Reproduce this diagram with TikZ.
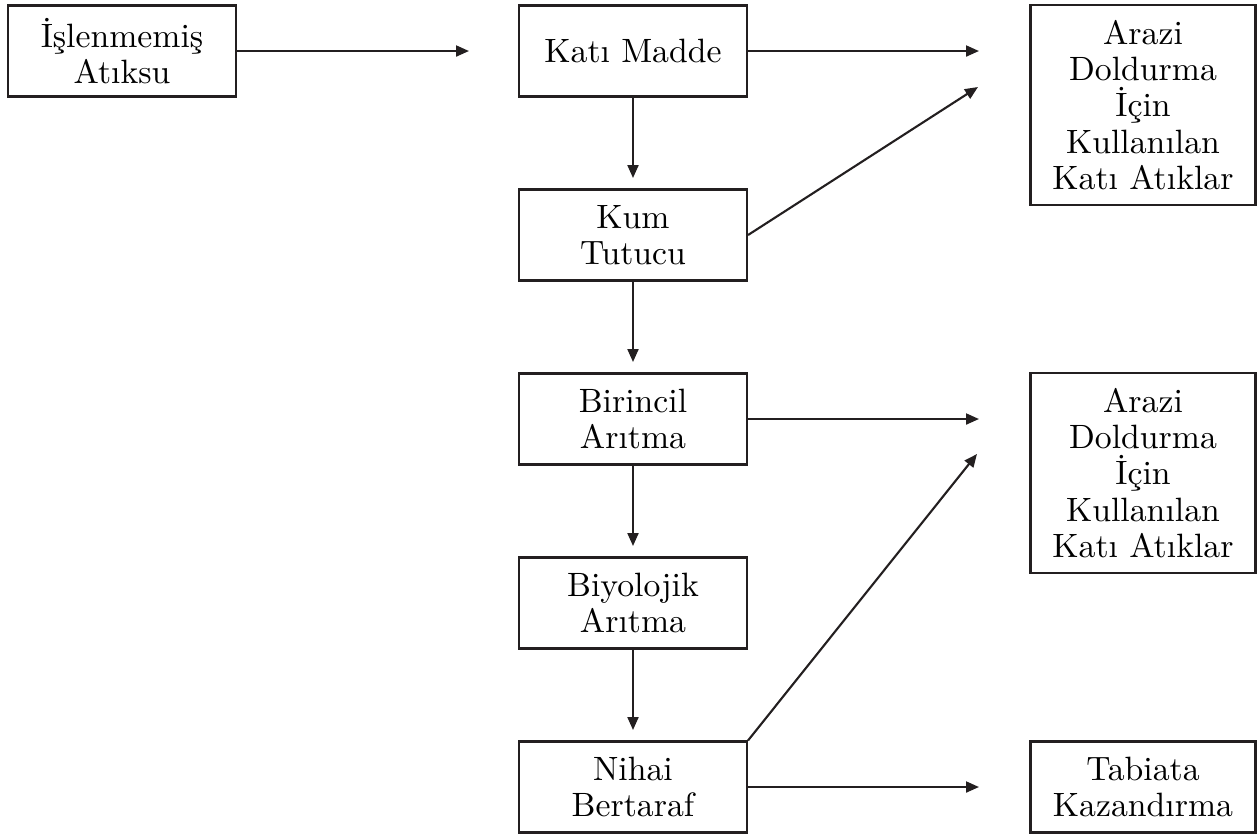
\documentclass[tikz,border=0pt]{standalone}
\usepackage{fontspec}
\usetikzlibrary{arrows.meta}
\definecolor{ink}{HTML}{231F20}
\tikzset{
  kutu/.style={draw=ink, line width=0.6pt, align=center, inner sep=0pt,
    minimum width=2.28cm, minimum height=0.91cm,
    font=\fontsize{9.6}{10.3}\selectfont},
  ok/.style={draw=ink, line width=0.6pt, -{Triangle[length=0.13cm,width=0.11cm]}}
}
\begin{document}
\begin{tikzpicture}[x=0.1mm, y=-0.1mm]
            \useasboundingbox (0,0) rectangle (1259,835);
            % kutular
            \node[kutu] (atiksu) at (122,51) {İşlenmemiş\\Atıksu};
            \node[kutu] (madde) at (633,51) {Katı Madde};
            \node[kutu] (kum) at (633,235) {Kum\\Tutucu};
            \node[kutu] (birincil) at (633,419) {Birincil\\Arıtma};
            \node[kutu] (biyo) at (633,603) {Biyolojik\\Arıtma};
            \node[kutu] (nihai) at (633,787) {Nihai\\Bertaraf};
            \node[kutu, minimum width=2.25cm, minimum height=2cm] (arazi1) at (1143,105) {Arazi\\Doldurma\\İçin\\Kullanılan\\Katı Atıklar};
            \node[kutu, minimum width=2.25cm, minimum height=2cm] (arazi2) at (1143,473) {Arazi\\Doldurma\\İçin\\Kullanılan\\Katı Atıklar};
            \node[kutu, minimum width=2.25cm] (tabiat) at (1143,787) {Tabiata\\Kazandırma};
            % ok uclari
            \coordinate (u1) at (469,51);
            \coordinate (u2) at (979,51);
            \coordinate (u3) at (978,87);
            \coordinate (u4) at (979,419);
            \coordinate (u5) at (977,454);
            \coordinate (u6) at (979,787);
            \coordinate (d1) at (633,178);
            \coordinate (d2) at (633,362);
            \coordinate (d3) at (633,546);
            \coordinate (d4) at (633,730);
            % oklar
            \draw[ok] (atiksu.east) -- (u1);
            \draw[ok] (madde.east) -- (u2);
            \draw[ok] (kum.east) -- (u3);
            \draw[ok] (birincil.east) -- (u4);
            \draw[ok] (nihai.north east) -- (u5);
            \draw[ok] (nihai.east) -- (u6);
            \draw[ok] (madde.south) -- (d1);
            \draw[ok] (kum.south) -- (d2);
            \draw[ok] (birincil.south) -- (d3);
            \draw[ok] (biyo.south) -- (d4);
        \end{tikzpicture}
\end{document}
